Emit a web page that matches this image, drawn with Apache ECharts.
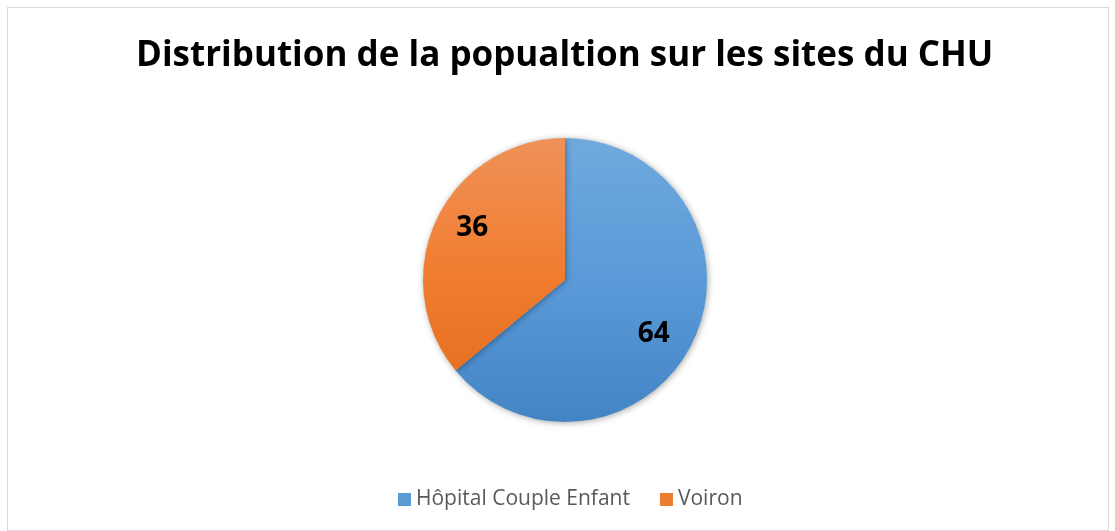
<!DOCTYPE html>
<html><head><meta charset="utf-8">
<script src="https://cdn.jsdelivr.net/npm/echarts@6/dist/echarts.min.js"></script>
<style>
html,body{margin:0;padding:0;background:#fff;}
#frame{position:absolute;left:7px;top:7px;width:1102px;height:524px;border:1px solid #d9d9d9;box-sizing:border-box;}
#c{position:absolute;left:0;top:0;width:1115px;height:531px;}
</style></head>
<body><div id="frame"></div><div id="c"></div>
<script>
const titleText = 'Distribution de la popualtion sur les sites du CHU';
const categories = ['Hôpital Couple Enfant', 'Voiron'];
const values = [64, 36];

const cx = 565, cy = 280, R = 142;
const grad = (stops) => new echarts.graphic.LinearGradient(0, cy - R, 0, cy + R,
  stops.map((c, i) => ({offset: i / (stops.length - 1), color: c})), true);
const colors = [grad(['#70a9de', '#5a9ad8', '#4384c5']), grad(['#ef9159', '#f17c2d', '#e2691b'])];
const legendColors = ['#5b9bd5', '#ed7d31'];
const labelOffsets = [[-9, 8], [5, -6]];

const data = categories.map((n, i) => ({name: n, value: values[i], itemStyle: {color: colors[i]}}));
const labelData = categories.map((n, i) => ({name: n, value: values[i], label: {offset: labelOffsets[i]}}));

const chart = echarts.init(document.getElementById('c'));
chart.setOption({
  animation: false,
  title: {text: titleText, left: 131, top: 34,
    textStyle: {fontFamily: 'Open Sans', fontWeight: 'bold', fontSize: 35, color: '#000'}},
  legend: {
    data: categories.map((n, i) => ({name: n, itemStyle: {color: legendColors[i]}})),
    bottom: 16, left: 393, icon: 'rect', itemWidth: 13, itemHeight: 13, itemGap: 30,
    textStyle: {fontFamily: 'Open Sans', fontSize: 21, color: '#595959'}
  },
  series: [{
    type: 'pie', center: [cx, cy], radius: [0, R], startAngle: 90, clockwise: true,
    label: {show: false}, labelLine: {show: false},
    itemStyle: {shadowBlur: 6, shadowColor: 'rgba(0,0,0,0.35)', shadowOffsetX: 1, shadowOffsetY: 1},
    emphasis: {disabled: true}, data: data
  }, {
    type: 'pie', center: [cx, cy], radius: [68, R], startAngle: 90, clockwise: true,
    itemStyle: {color: 'rgba(0,0,0,0)'}, silent: true, legendHoverLink: false,
    label: {show: true, position: 'inside', formatter: '{c}',
      fontFamily: 'Open Sans', fontWeight: 'bold', fontSize: 28, color: '#000'},
    labelLine: {show: false}, emphasis: {disabled: true}, data: labelData
  }]
});
</script></body></html>
